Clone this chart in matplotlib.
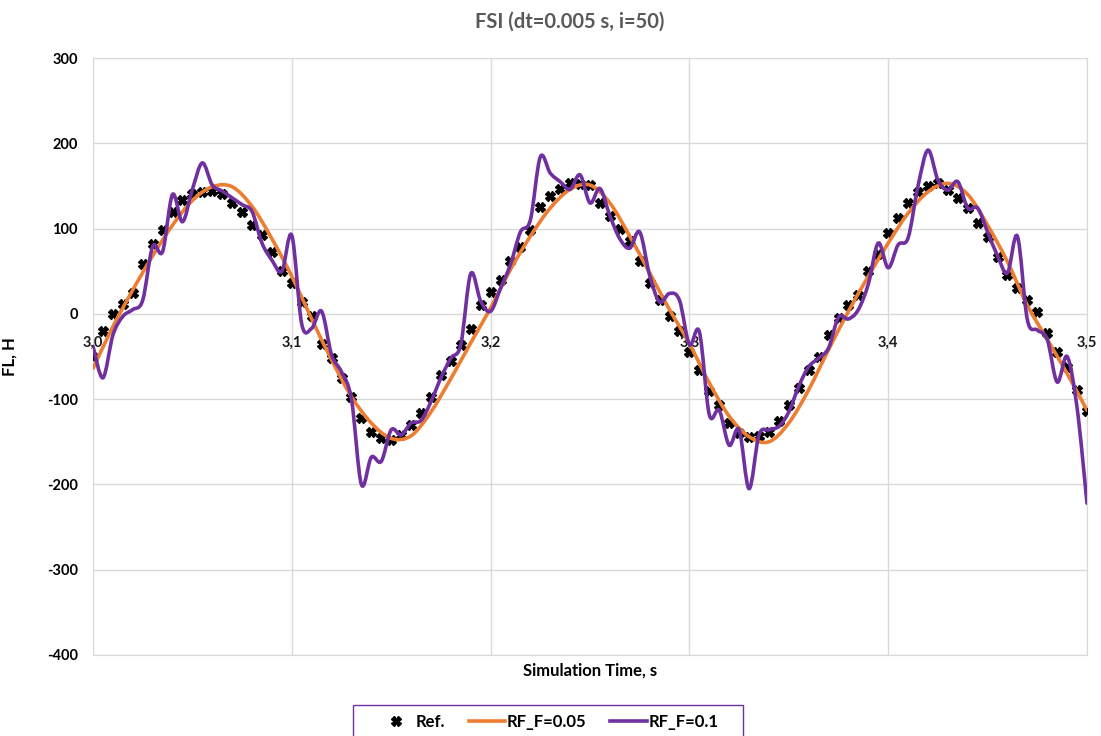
import numpy as np
import matplotlib.pyplot as plt
from matplotlib.path import Path
from matplotlib.patches import PathPatch, Rectangle
from matplotlib.lines import Line2D

plt.rcParams['font.family'] = ['Lato', 'DejaVu Sans']
plt.rcParams['axes.unicode_minus'] = False

# ---- data: force FL [H] vs simulation time [s] ----
t_ref = np.round(np.arange(3.0, 3.5001, 0.005), 3)
ref = [
    -50, -20, 0, 12, 24, 58, 82, 98, 120, 134,
    140, 143, 144, 140, 130, 120, 104, 92, 72, 50,
    36, 14, -3, -35, -52, -75, -98, -122, -138, -146,
    -148, -142, -130, -116, -97, -72, -55, -36, -18, 10,
    26, 40, 62, 78, 98, 125, 138, 146, 153, 152,
    151, 130, 115, 100, 85, 62, 36, 16, -2, -20,
    -45, -66, -90, -107, -128, -140, -144, -143, -138, -126,
    -107, -87, -66, -50, -25, -5, 10, 22, 50, 70,
    95, 112, 130, 143, 150, 153, 145, 136, 124, 106,
    90, 67, 45, 30, 16, 2, -23, -45, -62, -89,
    -114,
]

t_rf05 = np.round(np.arange(3.0, 3.5001, 0.01), 2)
rf_005 = [
    -64, -15, 28, 68, 104, 133, 149, 149, 126, 88,
    44, -6, -54, -97, -128, -146, -143, -115, -76, -34,
    7, 52, 91, 124, 146, 151, 130, 91, 48, 5,
    -35, -81, -120, -144, -150, -128, -89, -42, 3, 44,
    83, 118, 143, 153, 140, 104, 61, 10, -30, -70,
    -113,
]

t_rf10 = t_ref
rf_01 = [
    -38, -75, -25, -3, 5, 16, 79, 73, 140, 108,
    146, 177, 151, 144, 136, 128, 120, 83, 63, 50,
    92, -12, -17, 3, -48, -68, -100, -200, -168, -173,
    -136, -142, -128, -125, -103, -75, -52, -36, 47, 15,
    3, 30, 58, 96, 110, 184, 165, 155, 146, 163,
    130, 147, 115, 88, 77, 96, 45, 14, 24, 16,
    -36, -21, -118, -113, -154, -136, -205, -142, -136, -132,
    -115, -85, -62, -52, -40, -4, -6, 5, 35, 83,
    54, 81, 89, 150, 192, 157, 145, 155, 124, 124,
    96, 68, 48, 91, -7, -19, -30, -80, -50, -110,
    -222,
]

x_ticks = [3.0, 3.1, 3.2, 3.3, 3.4, 3.5]
y_ticks = [-400, -300, -200, -100, 0, 100, 200, 300]

C_ORANGE = '#ED7D31'
C_PURPLE = '#7030A0'
C_GRID = '#D9D9D9'


def smooth_path(x, y):
    # cubic bezier through every point (catmull-rom tangents), like a "smoothed line"
    pts = np.column_stack([np.asarray(x, float), np.asarray(y, float)])
    ext = np.vstack([pts[0], pts, pts[-1]])
    verts = [pts[0]]
    codes = [Path.MOVETO]
    for i in range(len(pts) - 1):
        p0, p1, p2, p3 = ext[i], ext[i + 1], ext[i + 2], ext[i + 3]
        verts += [p1 + (p2 - p0) / 6, p2 - (p3 - p1) / 6, p2]
        codes += [Path.CURVE4] * 3
    return Path(verts, codes)


W, H = 1101, 736
fig = plt.figure(figsize=(W / 100, H / 100), dpi=100)
ax = fig.add_axes([93 / W, 1 - 655 / H, 994 / W, 597 / H])

ax.set_xlim(3.0, 3.5)
ax.set_ylim(-400, 300)
ax.set_xticks(x_ticks)
ax.set_xticklabels([])
ax.set_yticks(y_ticks)
ax.tick_params(length=0)
ax.tick_params(axis='y', labelsize=10.5, pad=11)
for lab in ax.get_yticklabels():
    lab.set_fontweight('bold')
ax.grid(color=C_GRID, lw=1, zorder=0)
ax.set_axisbelow(True)
for sp in ax.spines.values():
    sp.set_color(C_GRID)

# x labels sit on the y=0 line
for t in x_ticks:
    ax.annotate(f"{t:.1f}".replace('.', ','), xy=(t, 0), xytext=(0, -22),
                textcoords='offset pixels', ha='center', va='top',
                fontsize=10.5, fontweight='bold', color='#1a1a1a',
                zorder=2, annotation_clip=False)

ax.plot(t_ref, ref, ls='none', marker='X', ms=7, color='black', zorder=3)
ax.add_patch(PathPatch(smooth_path(t_rf05, rf_005), fill=False,
                       edgecolor=C_ORANGE, lw=2.6, zorder=4,
                       capstyle='round', joinstyle='round'))
ax.add_patch(PathPatch(smooth_path(t_rf10, rf_01), fill=False,
                       edgecolor=C_PURPLE, lw=2.6, zorder=5,
                       capstyle='round', joinstyle='round'))

ax.set_ylabel('FL, H', fontsize=12, fontweight='bold')
ax.yaxis.set_label_coords(-0.0755, 0.5)
ax.set_xlabel('Simulation Time, s', fontsize=12, fontweight='bold')
ax.xaxis.set_label_coords(0.5, -0.012)

fig.text(570 / W, 1 - 22 / H, 'FSI (dt=0.005 s, i=50)', ha='center', va='center',
         fontsize=14.5, fontweight='bold', color='#595959')

handles = [
    Line2D([], [], ls='none', marker='X', ms=7, color='black'),
    Line2D([], [], color=C_ORANGE, lw=2.6),
    Line2D([], [], color=C_PURPLE, lw=2.6),
]
fig.legend(handles, ['Ref.', 'RF_F=0.05', 'RF_F=0.1'], ncol=3, loc='center',
           bbox_to_anchor=(548 / W, 1 - 722 / H), frameon=False,
           prop={'weight': 'bold', 'size': 12}, handlelength=2.2,
           handletextpad=0.1, columnspacing=1.4)
fig.add_artist(Rectangle((353 / W, -0.02), 390 / W, 0.02 + 1 - 705 / H,
                         transform=fig.transFigure, fill=False,
                         edgecolor=C_PURPLE, lw=1))

fig.savefig('out.png', dpi=100)
